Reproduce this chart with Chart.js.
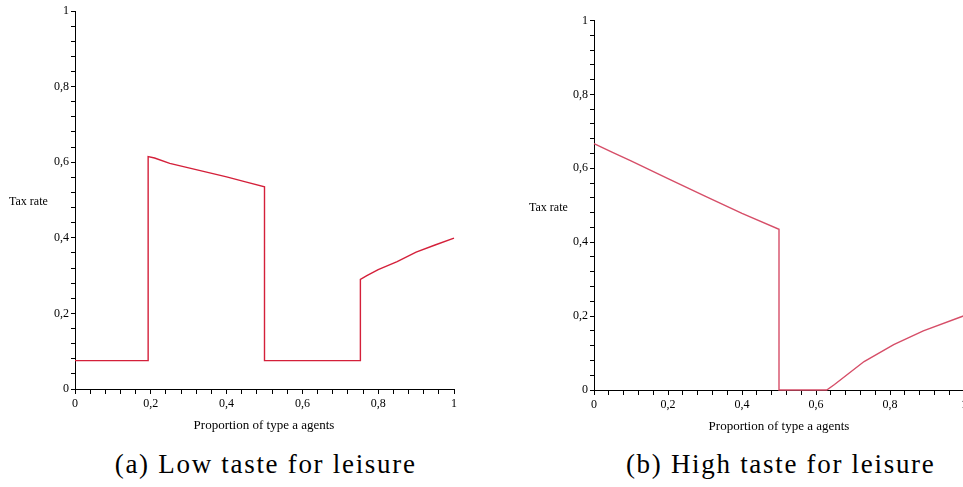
<!DOCTYPE html>
<html>
<head>
<meta charset="utf-8">
<script src="https://cdn.jsdelivr.net/npm/chart.js@4"></script>
<style>
  html, body { margin: 0; padding: 0; background: #fff; width: 963px; height: 487px; overflow: hidden; }
  .wrap { position: absolute; }
  canvas { display: block; }
  .txt { position: absolute; font-family: "Liberation Serif", "DejaVu Serif", serif; color: #000; white-space: nowrap; }
  .ylab { font-size: 12px; line-height: 12px; }
  .xlab { font-size: 13px; line-height: 13px; width: 300px; text-align: center; }
  .cap { font-size: 27px; line-height: 27px; width: 420px; text-align: center; letter-spacing: 1.7px; padding-left: 1.7px; }
</style>
</head>
<body>
<div class="wrap" style="left:0;top:0;width:480px;height:440px;"><canvas id="c1" width="480" height="440"></canvas></div>
<div class="wrap" style="left:480px;top:0;width:500px;height:440px;"><canvas id="c2" width="500" height="440"></canvas></div>

<div class="txt ylab" style="left:9px;top:195px;">Tax rate</div>
<div class="txt ylab" style="left:529px;top:201px;">Tax rate</div>
<div class="txt xlab" style="left:114px;top:418px;">Proportion of type a agents</div>
<div class="txt xlab" style="left:629px;top:419px;">Proportion of type a agents</div>
<div class="txt cap" style="left:54px;top:451px;">(a) Low taste for leisure</div>
<div class="txt cap" style="left:569px;top:451px;">(b) High taste for leisure</div>

<script>
// ---- Data ----
// Panel (a): Low taste for leisure
const lowX = [0, 0.193, 0.193, 0.21, 0.25, 0.3, 0.35, 0.4, 0.45, 0.5, 0.5, 0.753, 0.753, 0.77, 0.8, 0.85, 0.9, 0.95, 1];
const lowY = [0.075, 0.075, 0.615, 0.611, 0.597, 0.585, 0.573, 0.561, 0.548, 0.535, 0.075, 0.075, 0.29, 0.3, 0.316, 0.337, 0.362, 0.381, 0.399];
// Panel (b): High taste for leisure
const highX = [0, 0.05, 0.1, 0.2, 0.3, 0.4, 0.5, 0.5, 0.629, 0.65, 0.69, 0.73, 0.81, 0.89, 1];
const highY = [0.667, 0.643, 0.62, 0.572, 0.525, 0.478, 0.435, 0, 0, 0.015, 0.046, 0.077, 0.123, 0.16, 0.201];

// ---- Tick labels ----
const majorTicks = [0, 0.2, 0.4, 0.6, 0.8, 1];
const tickLabels = ['0', '0,2', '0,4', '0,6', '0,8', '1'];
const minorPerMajor = 5;

const allTicks = [];
for (let i = 0; i < majorTicks.length - 1; i++) {
  for (let k = 0; k < minorPerMajor; k++) {
    allTicks.push(majorTicks[i] + (majorTicks[i + 1] - majorTicks[i]) * k / minorPerMajor);
  }
}
allTicks.push(majorTicks[majorTicks.length - 1]);

function labelFor(v) {
  for (let i = 0; i < majorTicks.length; i++) {
    if (Math.abs(v - majorTicks[i]) < 1e-9) return tickLabels[i];
  }
  return '';
}

const tickFont = { family: "'Liberation Serif', 'DejaVu Serif', serif", size: 12 };

function makeChart(id, xs, ys, color, lw, pad, yWidth, xHeight) {
  const pts = xs.map((x, i) => ({ x: x, y: ys[i] }));
  const axisCommon = {
    type: 'linear',
    min: 0,
    max: 1,
    afterBuildTicks: s => { s.ticks = allTicks.map(v => ({ value: v })); },
    ticks: {
      autoSkip: false,
      maxRotation: 0,
      color: '#000',
      font: tickFont,
      callback: v => labelFor(v)
    },
    grid: { drawOnChartArea: false, drawTicks: true, tickLength: 4, color: '#000', lineWidth: 1 },
    border: { display: true, color: '#000', width: 1 }
  };
  return new Chart(document.getElementById(id), {
    type: 'line',
    data: {
      datasets: [{
        data: pts,
        borderColor: color,
        borderWidth: lw,
        pointRadius: 0,
        tension: 0,
        fill: false,
        clip: false
      }]
    },
    options: {
      responsive: false,
      animation: false,
      events: [],
      layout: { padding: pad },
      plugins: { legend: { display: false }, tooltip: { enabled: false }, title: { display: false } },
      scales: {
        x: Object.assign({}, axisCommon, {
          position: 'bottom',
          ticks: Object.assign({}, axisCommon.ticks, { padding: 3 }),
          grid: Object.assign({}, axisCommon.grid, { tickLength: 5 }),
          afterFit: s => { s.height = xHeight; }
        }),
        y: Object.assign({}, axisCommon, {
          position: 'left',
          ticks: Object.assign({}, axisCommon.ticks, { padding: 2 }),
          afterFit: s => { s.width = yWidth; }
        })
      }
    }
  });
}

makeChart('c1', lowX, lowY, 'rgb(212,32,58)', 1.4, { top: 11, right: 26, left: 0, bottom: 0 }, 75, 51);
makeChart('c2', highX, highY, 'rgb(214,78,104)', 1.4, { top: 20.5, right: 16, left: 0, bottom: 0 }, 114, 50);
</script>
</body>
</html>
